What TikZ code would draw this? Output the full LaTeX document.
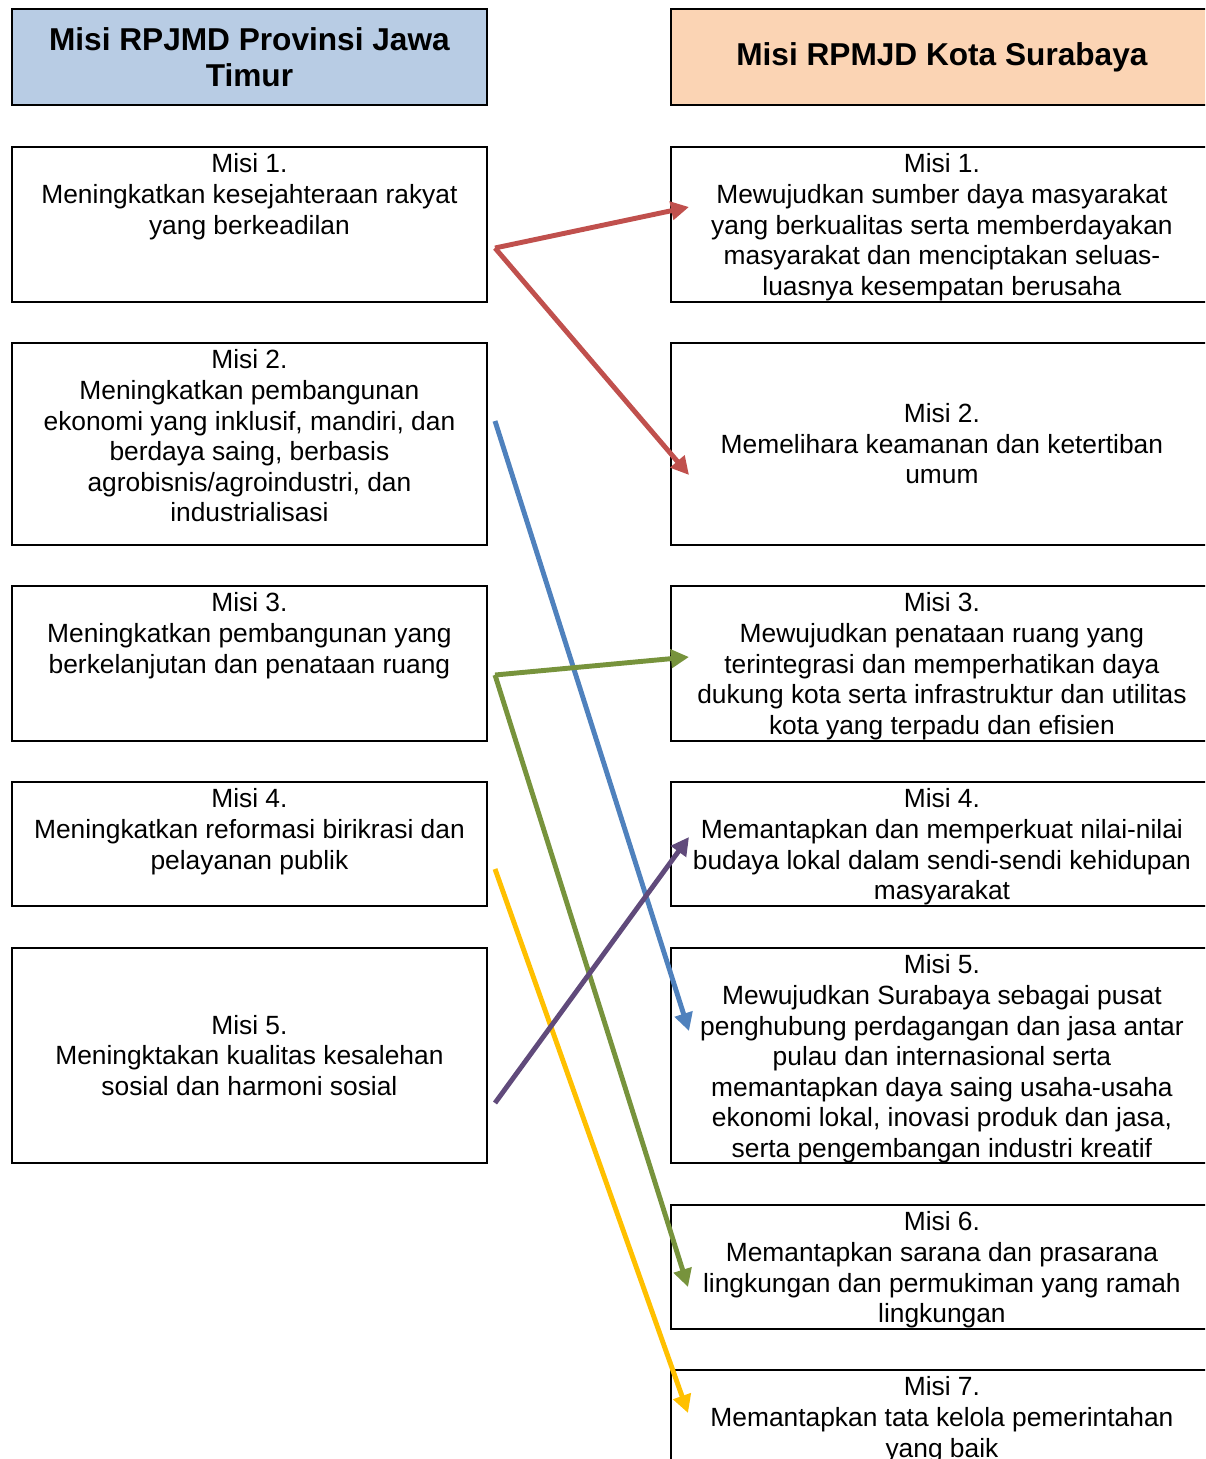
\documentclass[tikz,border=0pt]{standalone}
\usepackage{fontspec}
\setmainfont{Liberation Sans}
\usetikzlibrary{arrows.meta}
\definecolor{hdrblue}{HTML}{B8CCE4}
\definecolor{hdrpeach}{HTML}{FBD4B4}
\definecolor{arrred}{HTML}{C0504D}
\definecolor{arrblue}{HTML}{4F81BD}
\definecolor{arrgreen}{HTML}{77933C}
\definecolor{arryellow}{HTML}{FFC000}
\definecolor{arrpurple}{HTML}{604A7B}
\begin{document}
\begin{tikzpicture}[x=0.02cm,y=-0.02cm,
  box/.style={draw,line width=1.1pt,anchor=north west,inner sep=0pt},
  lbox/.style={box,minimum width=9.5cm},
  rbox/.style={box,minimum width=10.84cm},
  txt/.style={align=center,inner sep=0pt,font={\fontsize{15}{17.4}\selectfont}},
  toptxt/.style={txt,anchor=north,yshift=-0.15cm},
  hdrtxt/.style={align=center,font={\bfseries\fontsize{18}{20.5}\selectfont}},
  arr/.style={line width=2.8pt,-{Triangle[length=0.36cm,width=0.36cm]}}]
\useasboundingbox (0,0) rectangle (1205,1459);
\clip (0,0) rectangle (1205,1459);
\node[lbox,hdrtxt,fill=hdrblue,minimum height=1.92cm] (hl) at (11,8) {Misi RPJMD Provinsi Jawa\\Timur};
\node[rbox,hdrtxt,fill=hdrpeach,minimum height=1.92cm] (hr) at (670,8) {Misi RPMJD Kota Surabaya};
\node[lbox,minimum height=3.1cm] (l1) at (11,146) {};
\node[lbox,minimum height=4.04cm] (l2) at (11,342) {};
\node[lbox,minimum height=3.1cm] (l3) at (11,585) {};
\node[lbox,minimum height=2.48cm] (l4) at (11,781) {};
\node[lbox,minimum height=4.3cm] (l5) at (11,947) {};
\node[rbox,minimum height=3.1cm] (r1) at (670,146) {};
\node[rbox,minimum height=4.04cm] (r2) at (670,342) {};
\node[rbox,minimum height=3.1cm] (r3) at (670,585) {};
\node[rbox,minimum height=2.48cm] (r4) at (670,781) {};
\node[rbox,minimum height=4.3cm] (r5) at (670,947) {};
\node[rbox,minimum height=2.48cm] (r6) at (670,1204) {};
\node[rbox,minimum height=2.7cm] (r7) at (670,1369) {};
\node[toptxt] (l1t) at (l1.north) {Misi 1.\\Meningkatkan kesejahteraan rakyat\\yang berkeadilan};
\node[toptxt] (l2t) at (l2.north) {Misi 2.\\Meningkatkan pembangunan\\ekonomi yang inklusif, mandiri, dan\\berdaya saing, berbasis\\agrobisnis/agroindustri, dan\\industrialisasi};
\node[toptxt] (l3t) at (l3.north) {Misi 3.\\Meningkatkan pembangunan yang\\berkelanjutan dan penataan ruang};
\node[toptxt] (l4t) at (l4.north) {Misi 4.\\Meningkatkan reformasi birikrasi dan\\pelayanan publik};
\node[txt] (l5t) at (l5.center) {Misi 5.\\Meningktakan kualitas kesalehan\\sosial dan harmoni sosial};
\node[toptxt] (r1t) at (r1.north) {Misi 1.\\Mewujudkan sumber daya masyarakat\\yang berkualitas serta memberdayakan\\masyarakat dan menciptakan seluas-\\luasnya kesempatan berusaha};
\node[txt] (r2t) at (r2.center) {Misi 2.\\Memelihara keamanan dan ketertiban\\umum};
\node[toptxt] (r3t) at (r3.north) {Misi 3.\\Mewujudkan penataan ruang yang\\terintegrasi dan memperhatikan daya\\dukung kota serta infrastruktur dan utilitas\\kota yang terpadu dan efisien};
\node[toptxt] (r4t) at (r4.north) {Misi 4.\\Memantapkan dan memperkuat nilai-nilai\\budaya lokal dalam sendi-sendi kehidupan\\masyarakat};
\node[toptxt] (r5t) at (r5.north) {Misi 5.\\Mewujudkan Surabaya sebagai pusat\\penghubung perdagangan dan jasa antar\\pulau dan internasional serta\\memantapkan daya saing usaha-usaha\\ekonomi lokal, inovasi produk dan jasa,\\serta pengembangan industri kreatif};
\node[toptxt] (r6t) at (r6.north) {Misi 6.\\Memantapkan sarana dan prasarana\\lingkungan dan permukiman yang ramah\\lingkungan};
\node[toptxt] (r7t) at (r7.north) {Misi 7.\\Memantapkan tata kelola pemerintahan\\yang baik};
\coordinate (m1) at (495,248);
\coordinate (m2) at (495,421);
\coordinate (m3) at (495,675);
\coordinate (m4) at (495,869);
\coordinate (m5) at (495,1103);
\coordinate (k1) at (689,207);
\coordinate (k2) at (689,475);
\coordinate (k3) at (689,657);
\coordinate (k4) at (689,837);
\coordinate (k5) at (689,1031);
\coordinate (k6) at (688,1287);
\coordinate (k7) at (688,1413);
\draw[arr,arrblue] (m2) -- (k5);
\draw[arr,arrred] (m1) -- (k1);
\draw[arr,arrred] (m1) -- (k2);
\draw[arr,arrgreen] (m3) -- (k3);
\draw[arr,arrgreen] (m3) -- (k6);
\draw[arr,arryellow] (m4) -- (k7);
\draw[arr,arrpurple] (m5) -- (k4);
\end{tikzpicture}
\end{document}
